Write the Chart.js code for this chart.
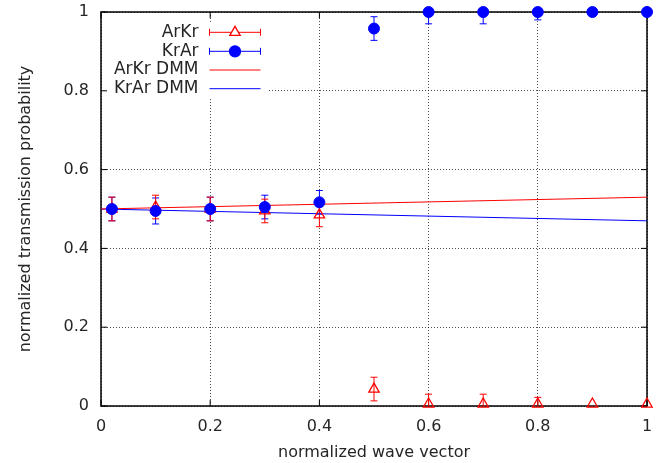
<!DOCTYPE html>
<html><head><meta charset="utf-8">
<script src="https://cdn.jsdelivr.net/npm/chart.js@4/dist/chart.umd.min.js"></script>
<style>html,body{margin:0;padding:0;background:#fff;}</style>
</head><body>
<canvas id="c" width="661" height="463"></canvas>
<script>
const waveVector = [0.02, 0.1, 0.2, 0.3, 0.4, 0.5, 0.6, 0.7, 0.8, 0.9, 1.0];
const arkrValues = [0.5, 0.505, 0.5, 0.495, 0.485, 0.043, 0.005, 0.005, 0.005, 0.005, 0.005];
const arkrErrors = [0.03, 0.03, 0.03, 0.03, 0.03, 0.03, 0.025, 0.025, 0.017, 0, 0];
const krarValues = [0.5, 0.495, 0.5, 0.505, 0.517, 0.958, 1, 1, 1, 1, 1];
const krarErrors = [0.03, 0.033, 0.03, 0.03, 0.03, 0.03, 0.03, 0.03, 0.02, 0, 0];
const dmmX = [0, 1];
const arkrDmm = [0.5, 0.53];
const krarDmm = [0.5, 0.47];
const xTickValues = [0, 0.2, 0.4, 0.6, 0.8, 1];
const yTickValues = [0, 0.2, 0.4, 0.6, 0.8, 1];
const legendLabels = ['ArKr', 'KrAr', 'ArKr DMM', 'KrAr DMM'];
const xTitle = 'normalized wave vector';
const yTitle = 'normalized transmission probability';

const RED = '#ff0000', BLUE = '#0000ff', TEXT = '#262626';
const FONT = "'DejaVu Sans', sans-serif";
Chart.defaults.font.family = FONT;
Chart.defaults.font.size = 16;
Chart.defaults.color = TEXT;

const pts = (xs, ys) => xs.map((x, i) => ({x: x, y: ys[i]}));

const gnuplotDecor = {
  id: 'gnuplotDecor',
  beforeDatasetsDraw(chart) {
    const {ctx, chartArea: a, scales: {x, y}} = chart;
    ctx.save();
    // key box blanking
    ctx.fillStyle = '#ffffff';
    ctx.fillRect(a.left + 1, 22, 167, 76);
    // frame with inward ticks
    ctx.strokeStyle = '#000';
    ctx.lineWidth = 1.5;
    ctx.strokeRect(a.left, a.top, a.right - a.left, a.bottom - a.top);
    ctx.lineWidth = 1;
    ctx.beginPath();
    xTickValues.forEach(v => {
      const px = x.getPixelForValue(v);
      ctx.moveTo(px, a.bottom); ctx.lineTo(px, a.bottom - 6);
      ctx.moveTo(px, a.top); ctx.lineTo(px, a.top + 6);
    });
    yTickValues.forEach(v => {
      const py = y.getPixelForValue(v);
      ctx.moveTo(a.left, py); ctx.lineTo(a.left + 6, py);
      ctx.moveTo(a.right, py); ctx.lineTo(a.right - 6, py);
    });
    ctx.stroke();
    // legend contents
    const rows = [32.3, 51.3, 70, 88.7];
    const x0 = 209.5, x1 = 260.5, xm = 235;
    ctx.font = '17px ' + FONT;
    ctx.fillStyle = TEXT;
    ctx.textAlign = 'right';
    ctx.textBaseline = 'middle';
    legendLabels.forEach((t, i) => ctx.fillText(t, 198.5, rows[i]));
    const colors = [RED, BLUE, RED, BLUE];
    rows.forEach((ry, i) => {
      ctx.strokeStyle = colors[i];
      ctx.lineWidth = 1;
      ctx.beginPath();
      ctx.moveTo(x0, ry); ctx.lineTo(x1, ry);
      if (i < 2) {
        ctx.moveTo(x0, ry - 3.5); ctx.lineTo(x0, ry + 3.5);
        ctx.moveTo(x1, ry - 3.5); ctx.lineTo(x1, ry + 3.5);
      }
      ctx.stroke();
    });
    ctx.lineWidth = 1.3;
    ctx.strokeStyle = RED; ctx.fillStyle = '#ffffff';
    Chart.helpers.drawPoint(ctx, {pointStyle: 'triangle', radius: 6, rotation: 0, borderWidth: 1.3}, xm, rows[0]);
    ctx.strokeStyle = BLUE; ctx.fillStyle = BLUE;
    Chart.helpers.drawPoint(ctx, {pointStyle: 'circle', radius: 5.5, rotation: 0, borderWidth: 1}, xm, rows[1]);
    // error bars
    ctx.beginPath();
    ctx.rect(a.left, a.top, a.right - a.left, a.bottom - a.top);
    ctx.clip();
    chart.data.datasets.forEach(ds => {
      if (!ds.errors) return;
      ctx.strokeStyle = ds.borderColor;
      ctx.lineWidth = 1;
      ds.data.forEach((p, i) => {
        const e = ds.errors[i];
        if (!e) return;
        const px = x.getPixelForValue(p.x);
        const y1 = y.getPixelForValue(p.y - e), y2 = y.getPixelForValue(p.y + e);
        ctx.beginPath();
        ctx.moveTo(px, y1); ctx.lineTo(px, y2);
        ctx.moveTo(px - 3.5, y1); ctx.lineTo(px + 3.5, y1);
        ctx.moveTo(px - 3.5, y2); ctx.lineTo(px + 3.5, y2);
        ctx.stroke();
      });
    });
    ctx.restore();
  }
};

new Chart(document.getElementById('c'), {
  type: 'scatter',
  data: {
    datasets: [
      {label: legendLabels[1], data: pts(waveVector, krarValues), errors: krarErrors, order: 0,
       pointStyle: 'circle', pointRadius: 5.5, backgroundColor: BLUE, borderColor: BLUE, borderWidth: 1, clip: false},
      {label: legendLabels[0], data: pts(waveVector, arkrValues), errors: arkrErrors, order: 1,
       pointStyle: 'triangle', pointRadius: 6, backgroundColor: 'rgba(255,255,255,0)', borderColor: RED, borderWidth: 1.3, clip: false},
      {label: legendLabels[2], data: pts(dmmX, arkrDmm), showLine: true, order: 2,
       pointRadius: 0, borderColor: RED, borderWidth: 1},
      {label: legendLabels[3], data: pts(dmmX, krarDmm), showLine: true, order: 3,
       pointRadius: 0, borderColor: BLUE, borderWidth: 1}
    ]
  },
  options: {
    responsive: false,
    animation: false,
    devicePixelRatio: 1,
    layout: {padding: {left: 0, right: 14, top: 12, bottom: 0}},
    plugins: {legend: {display: false}, tooltip: {enabled: false}},
    scales: {
      x: {
        type: 'linear', min: 0, max: 1,
        afterBuildTicks: s => { s.ticks = xTickValues.map(v => ({value: v})); },
        afterFit: s => { s.height = 57; s.paddingLeft = 0; s.paddingRight = 0; },
        ticks: {padding: 11, maxRotation: 0, color: TEXT, font: {size: 16}, callback: v => String(v)},
        grid: {color: 'rgba(0,0,0,0.7)', lineWidth: 1, drawTicks: false},
        border: {display: false, dash: [1, 2]},
        title: {display: true, text: xTitle, color: TEXT, font: {size: 16}, padding: {top: 0, bottom: 1}}
      },
      y: {
        type: 'linear', min: 0, max: 1,
        afterBuildTicks: s => { s.ticks = yTickValues.map(v => ({value: v})); },
        afterFit: s => { s.width = 101; s.paddingTop = 0; s.paddingBottom = 0; },
        ticks: {padding: 12, color: TEXT, font: {size: 16}, callback: v => String(v)},
        grid: {color: 'rgba(0,0,0,0.7)', lineWidth: 1, drawTicks: false},
        border: {display: false, dash: [1, 2]},
        title: {display: true, text: yTitle, color: TEXT, font: {size: 16}, padding: {top: 16, bottom: 0}}
      }
    }
  },
  plugins: [gnuplotDecor]
});
</script>
</body></html>
